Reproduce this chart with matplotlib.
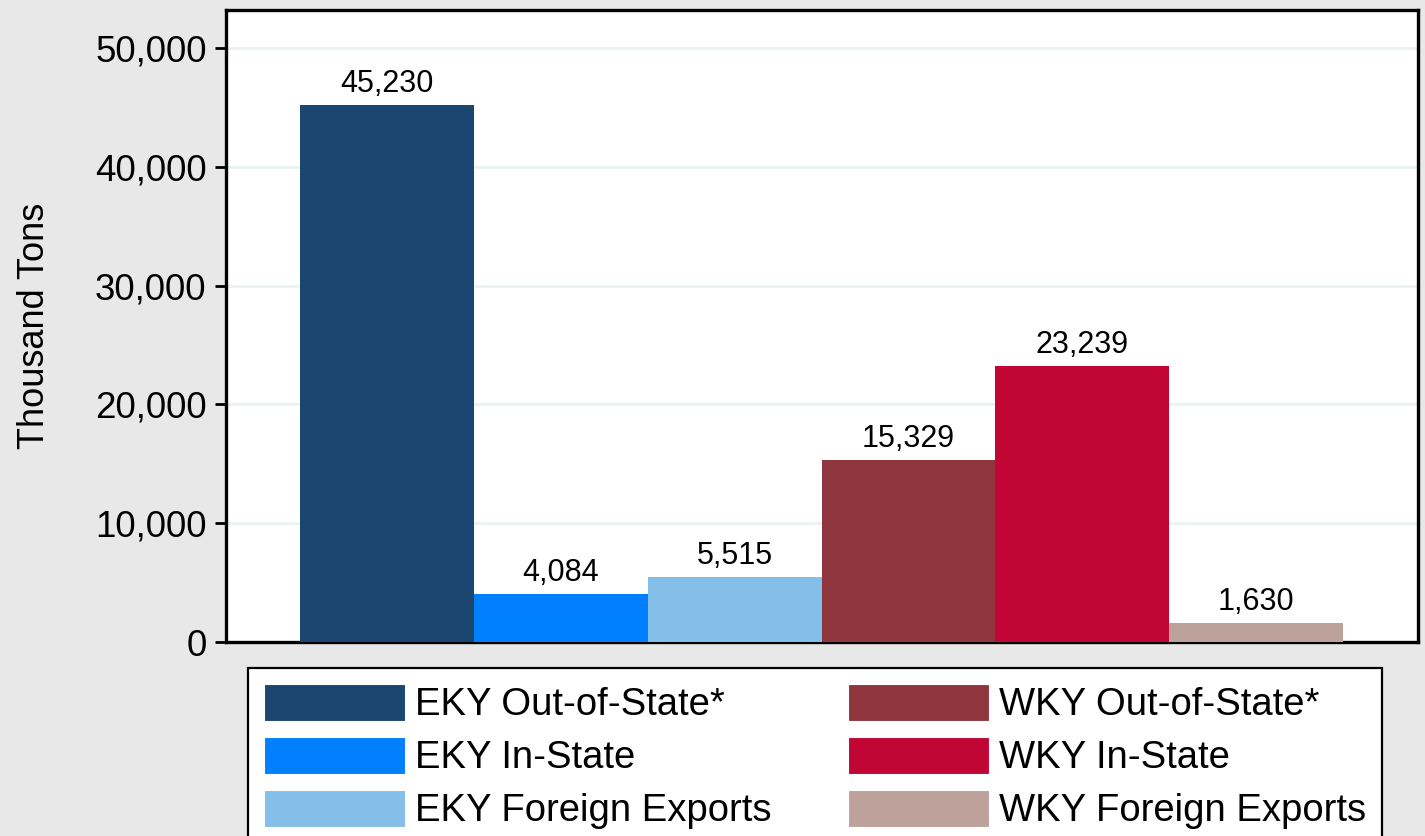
import matplotlib.pyplot as plt
from matplotlib.ticker import FuncFormatter
from matplotlib.patches import Patch

plt.rcParams["font.family"] = ["Liberation Sans", "DejaVu Sans"]

labels = [
    "EKY Out-of-State*",
    "EKY In-State",
    "EKY Foreign Exports",
    "WKY Out-of-State*",
    "WKY In-State",
    "WKY Foreign Exports",
]
values = [45230, 4084, 5515, 15329, 23239, 1630]
colors = ["#1b4670", "#0080ff", "#83bfe9", "#8e353e", "#c10534", "#bda19b"]

fig = plt.figure(figsize=(14.25, 8.36), dpi=100, facecolor="#e8e8e8")
ax = fig.add_axes([0.1586, 0.232, 0.8365, 0.756])
ax.set_facecolor("white")

x = list(range(len(values)))
bars = ax.bar(x, values, width=1.0, color=colors, zorder=3)
for xi, v in zip(x, values):
    ax.text(xi, v + 500, f"{v:,}", ha="center", va="bottom", fontsize=22, zorder=4)

ax.set_xlim(-0.925, 5.93)
ax.set_ylim(0, 53200)
ax.set_yticks(range(0, 50001, 10000))
ax.yaxis.set_major_formatter(FuncFormatter(lambda v, p: f"{int(v):,}"))
ax.set_xticks([])
ax.grid(axis="y", color="#eaf2f3", linewidth=2, zorder=0)
ax.tick_params(axis="y", labelsize=26.5, length=8, width=2, pad=6)
ax.set_ylabel("Thousand Tons", fontsize=26, labelpad=31)
for s in ax.spines.values():
    s.set_linewidth(2.4)
    s.set_color("black")

# legend order: EKY in first column, WKY in second
handles = [Patch(facecolor=c, edgecolor="white", linewidth=0.8) for c in colors]
leg = fig.legend(
    handles,
    labels,
    ncol=2,
    loc="upper left",
    bbox_to_anchor=(0.174, 0.201),
    fontsize=27.5,
    frameon=True,
    fancybox=False,
    framealpha=1,
    handlelength=3.7,
    handleheight=1.1,
    handletextpad=0.25,
    labelspacing=0.36,
    columnspacing=2.0,
    borderpad=0.42,
    borderaxespad=0,
)
leg.get_frame().set_edgecolor("black")
leg.get_frame().set_linewidth(1.6)

fig.savefig("out.png", dpi=100, facecolor=fig.get_facecolor())
